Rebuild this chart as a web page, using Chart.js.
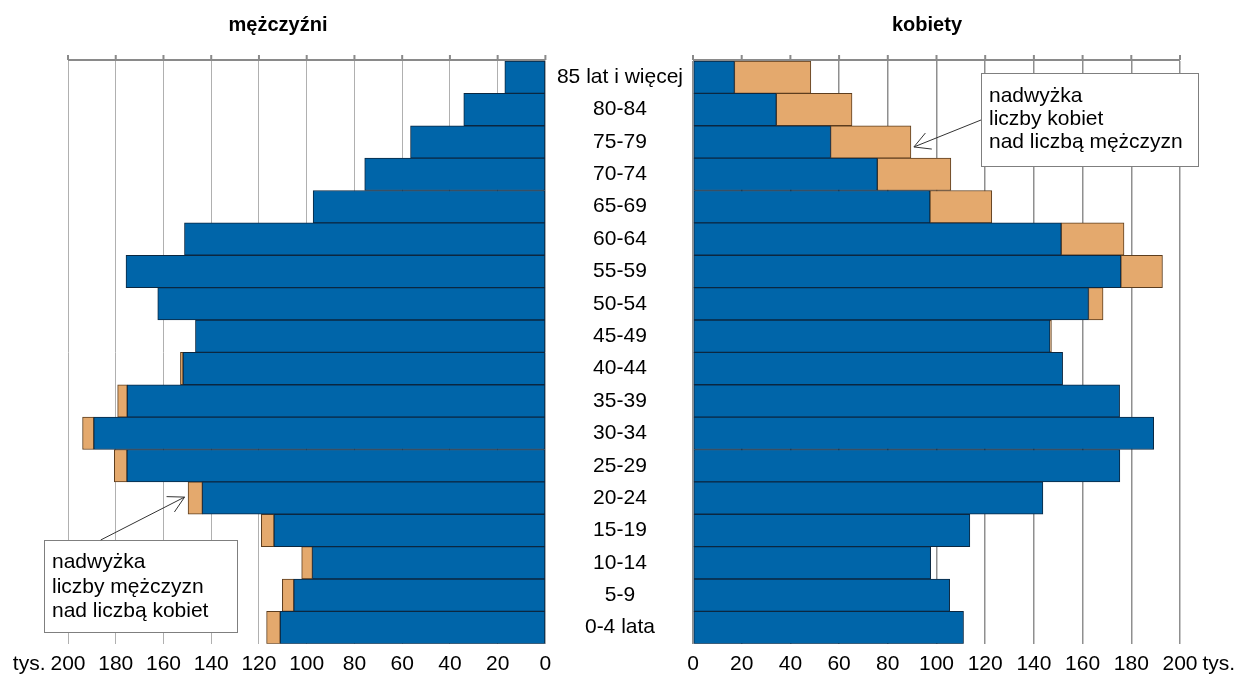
<!DOCTYPE html>
<html lang="pl">
<head>
<meta charset="utf-8">
<title>Ludność według płci i wieku</title>
<script src="https://cdn.jsdelivr.net/npm/chart.js@4.4.1/dist/chart.umd.min.js"></script>
<style>
    body { margin: 0; background: #fff; }
    #wrap { position: relative; width: 1243px; height: 677px; overflow: hidden; }
    .panel { position: absolute; top: 0; height: 677px; }
    .tytul { position: absolute; top: 13px; width: 200px; text-align: center; line-height: 24px;
             font: bold 20px "Liberation Sans", Arial, sans-serif; color: #000; }
</style>
</head>
<body>
<div id="wrap">
    <div class="panel" style="left:0;width:560px;"><canvas id="lewy"></canvas></div>
    <div class="panel" style="left:547px;width:696px;"><canvas id="prawy"></canvas></div>
    <div class="tytul" style="left:178px;">mężczyźni</div>
    <div class="tytul" style="left:827px;">kobiety</div>
</div>
<script>
// grupy wieku (od góry)
var kategorie = ['85 lat i więcej', '80-84', '75-79', '70-74', '65-69', '60-64', '55-59', '50-54', '45-49',
                 '40-44', '35-39', '30-34', '25-29', '20-24', '15-19', '10-14', '5-9', '0-4 lata'];

// część wspólna (niebieska) - w tys.
var wspolne = [17.0, 34.2, 56.5, 75.7, 97.3, 151.2, 175.7, 162.4, 146.6,
               151.8, 175.2, 189.2, 175.3, 143.7, 113.7, 97.6, 105.4, 111.1];

// nadwyżka mężczyzn nad kobietami
var nadwyzkaMezczyzn = [0, 0, 0, 0, 0, 0, 0, 0, 0,
                        1.1, 4.0, 4.7, 5.3, 6.0, 5.3, 4.5, 4.8, 5.7];

// nadwyżka kobiet nad mężczyznami
var nadwyzkaKobiet = [31.4, 31.1, 33.0, 30.2, 25.4, 25.8, 17.1, 6.0, 0.6,
                      0, 0, 0, 0, 0, 0, 0, 0, 0];

// podziałka osi X
var podzialkaX = [0, 20, 40, 60, 80, 100, 120, 140, 160, 180, 200];
var jednostka = 'tys.';

var NIEBIESKI = '#0065a9';
var POMARANCZ = '#e4a96d';
var CZCIONKA = '"Liberation Sans", Arial, sans-serif';
var ODSTEP = 8; // odstęp etykiet osi X od wykresu

Chart.defaults.font.family = CZCIONKA;
Chart.defaults.font.size = 21;
Chart.defaults.color = '#000';

// linia osi u góry z kreskami + jednostka przy 200
var gornaOs = {
    id: 'gornaOs',
    afterDatasetsDraw: function (chart, args, opts) {
        var ctx = chart.ctx, area = chart.chartArea, sx = chart.scales.x;
        ctx.save();
        ctx.strokeStyle = '#8a8a8a';
        ctx.lineWidth = 2;
        ctx.beginPath();
        ctx.moveTo(area.left, area.top - 1);
        ctx.lineTo(area.right, area.top - 1);
        podzialkaX.forEach(function (v) {
            var x = sx.getPixelForValue(v);
            ctx.moveTo(x, area.top - 1);
            ctx.lineTo(x, area.top - 6);
        });
        ctx.stroke();

        // "tys." obok etykiety 200
        ctx.font = '21px ' + CZCIONKA;
        ctx.fillStyle = '#000';
        ctx.textBaseline = 'middle';
        var x200 = sx.getPixelForValue(200);
        var pol = ctx.measureText('200').width / 2;
        var y = sx.top + ODSTEP + 21 * 1.2 / 2;
        if (opts.strona === 'lewa') {
            ctx.textAlign = 'right';
            ctx.fillText(jednostka, x200 - pol - 5, y);
        } else {
            ctx.textAlign = 'left';
            ctx.fillText(jednostka, x200 + pol + 5, y);
        }
        ctx.restore();
    }
};

// ramka z opisem i strzałką
var objasnienie = {
    id: 'objasnienie',
    afterDraw: function (chart, args, o) {
        var ctx = chart.ctx;
        var tipX = chart.scales.x.getPixelForValue(o.wartosc) + o.dx;
        var tipY = chart.scales.y.getPixelForValue(o.kategoria) + o.dy;
        ctx.save();
        ctx.fillStyle = '#fff';
        ctx.fillRect(o.x, o.y, o.w, o.h);
        ctx.strokeStyle = '#7f7f7f';
        ctx.lineWidth = 1;
        ctx.strokeRect(o.x + 0.5, o.y + 0.5, o.w, o.h);

        ctx.fillStyle = '#000';
        ctx.font = '21px ' + CZCIONKA;
        ctx.textAlign = 'left';
        ctx.textBaseline = 'alphabetic';
        o.tekst.forEach(function (t, i) {
            ctx.fillText(t, o.x + 8, o.y + o.pierwsza + i * o.interlinia);
        });

        ctx.strokeStyle = '#333';
        ctx.beginPath();
        ctx.moveTo(o.ogonX, o.ogonY);
        ctx.lineTo(tipX, tipY);
        var a = Math.atan2(o.ogonY - tipY, o.ogonX - tipX);
        [-0.5, 0.5].forEach(function (d) {
            ctx.moveTo(tipX, tipY);
            ctx.lineTo(tipX + 18 * Math.cos(a + d), tipY + 18 * Math.sin(a + d));
        });
        ctx.stroke();
        ctx.restore();
    }
};

function ustawPodzialke(scale) {
    scale.ticks = podzialkaX.map(function (v) { return { value: v }; });
}

// mężczyźni - lewa strona
var ctxL = document.getElementById('lewy');
var wykresL = new Chart(ctxL, {
    type: 'bar',
    data: {
        labels: kategorie,
        datasets: [{
            label: 'mężczyźni',
            data: wspolne,
            backgroundColor: NIEBIESKI,
            borderColor: '#0b2740',
            borderWidth: 1,
            borderSkipped: false,
            barPercentage: 1,
            categoryPercentage: 1
        },
        {
            label: 'nadwyżka liczby mężczyzn',
            data: nadwyzkaMezczyzn,
            backgroundColor: POMARANCZ,
            borderColor: '#5c3d1e',
            borderWidth: 1,
            borderSkipped: false,
            barPercentage: 1,
            categoryPercentage: 1
        }]
    },
    plugins: [gornaOs, objasnienie],
    options: {
        indexAxis: 'y',
        responsive: true,
        maintainAspectRatio: false,
        animation: false,
        layout: { padding: { top: 61, left: 68, right: 14.6, bottom: -8 } },
        plugins: {
            legend: { display: false },
            tooltip: { enabled: false },
            gornaOs: { strona: 'lewa' },
            objasnienie: {
                x: 44, y: 540, w: 193, h: 92,
                tekst: ['nadwyżka', 'liczby mężczyzn', 'nad liczbą kobiet'],
                pierwsza: 28, interlinia: 24.5,
                kategoria: 13, wartosc: 149.7, dx: -3.5, dy: -1,
                ogonX: 100.7, ogonY: 540
            }
        },
        scales: {
            x: {
                reverse: true,
                stacked: true,
                min: 0,
                max: 200,
                afterBuildTicks: ustawPodzialke,
                grid: { color: '#b0b0b0', drawTicks: false },
                border: { display: false },
                ticks: { padding: ODSTEP, color: '#000' }
            },
            y: {
                stacked: true,
                display: false
            }
        }
    }
});

// kobiety - prawa strona
var ctxP = document.getElementById('prawy');
var wykresP = new Chart(ctxP, {
    type: 'bar',
    data: {
        labels: kategorie,
        datasets: [{
            label: 'kobiety',
            data: wspolne,
            backgroundColor: NIEBIESKI,
            borderColor: '#0b2740',
            borderWidth: 1,
            borderSkipped: false,
            barPercentage: 1,
            categoryPercentage: 1
        },
        {
            label: 'nadwyżka liczby kobiet',
            data: nadwyzkaKobiet,
            backgroundColor: POMARANCZ,
            borderColor: '#5c3d1e',
            borderWidth: 1,
            borderSkipped: false,
            barPercentage: 1,
            categoryPercentage: 1
        }]
    },
    plugins: [gornaOs, objasnienie],
    options: {
        indexAxis: 'y',
        responsive: true,
        maintainAspectRatio: false,
        animation: false,
        layout: { padding: { top: 61, left: 0, right: 63, bottom: -8 } },
        plugins: {
            legend: { display: false },
            tooltip: { enabled: false },
            gornaOs: { strona: 'prawa' },
            objasnienie: {
                x: 434, y: 73, w: 217, h: 93,
                tekst: ['nadwyżka', 'liczby kobiet', 'nad liczbą mężczyzn'],
                pierwsza: 28.7, interlinia: 23,
                kategoria: 2, wartosc: 89.5, dx: 3, dy: 5,
                ogonX: 434, ogonY: 120
            }
        },
        scales: {
            x: {
                stacked: true,
                min: 0,
                max: 200,
                afterBuildTicks: ustawPodzialke,
                grid: { color: '#8f8f8f', lineWidth: 1.5, drawTicks: false },
                border: { display: false },
                ticks: { padding: ODSTEP, color: '#000' }
            },
            y: {
                stacked: true,
                position: 'left',
                grid: { display: false },
                border: { display: false },
                ticks: { crossAlign: 'center', padding: 2, color: '#000' },
                afterFit: function (scale) {
                    scale.width = 146;
                }
            }
        }
    }
});
</script>
</body>
</html>
